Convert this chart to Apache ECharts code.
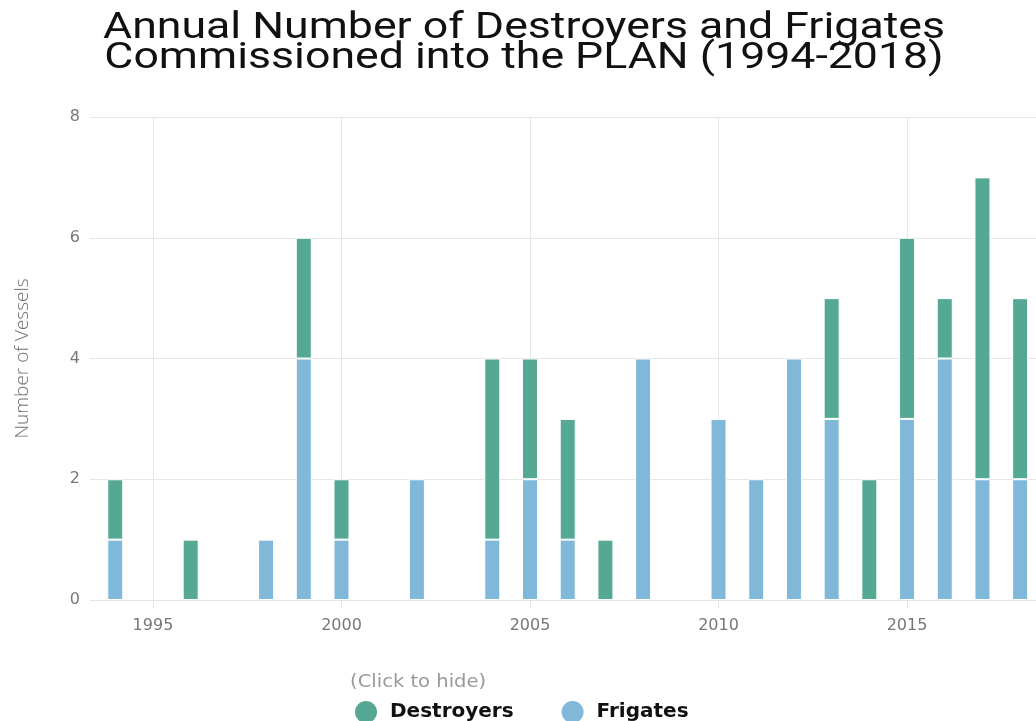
<!DOCTYPE html>
<html>
<head>
<meta charset="utf-8">
<script src="https://cdn.jsdelivr.net/npm/echarts@6/dist/echarts.min.js"></script>
<style>html,body{margin:0;padding:0;background:#fff;}#c{width:1036px;height:721px;}</style>
</head>
<body>
<div id="c"></div>
<script>
const years      = [1994,1996,1998,1999,2000,2002,2004,2005,2006,2007,2008,2010,2011,2012,2013,2014,2015,2016,2017,2018];
const frigates   = [1,   0,   1,   4,   1,   2,   1,   2,   1,   0,   4,   3,   2,   4,   3,   0,   3,   4,   2,   2];
const destroyers = [1,   1,   0,   2,   1,   0,   3,   2,   2,   1,   0,   0,   0,   0,   2,   2,   3,   1,   5,   3];
const xTicks = [1995, 2000, 2005, 2010, 2015];
const yTicks = [0, 2, 4, 6, 8];

// value first so that the stacked dimension is the vessel count
const toData = arr => years.map((y, i) => [arr[i] === 0 ? '-' : arr[i], y]);

const chart = echarts.init(document.getElementById('c'));
chart.setOption({
  animation: false,
  graphic: [{
    type: 'text', x: 524, y: 14, scaleX: 1.24, scaleY: 1,
    style: {
      text: 'Annual Number of Destroyers and Frigates\nCommissioned into the PLAN (1994-2018)',
      x: 0, y: 0, align: 'center', verticalAlign: 'top',
      fontFamily: 'Roboto', fontSize: 36, lineHeight: 30, fill: '#111'
    }
  }, {
    type: 'text', x: 350, y: 674, scaleX: 1.15,
    style: { text: '(Click to hide)', x: 0, y: 0, fontFamily: 'DejaVu Sans', fontSize: 17, fill: '#999' }
  }],
  legend: {
    left: 353, top: 699, padding: 0, icon: 'circle', itemWidth: 24, itemHeight: 24, itemGap: 46,
    data: ['Destroyers', 'Frigates'],
    textStyle: { fontFamily: 'DejaVu Sans', fontWeight: 'bold', fontSize: 20, color: '#111', padding: [0, 0, 0, 7] }
  },
  grid: { left: 90, right: 0, top: 117, bottom: 121 },
  xAxis: {
    type: 'value', min: 1993.33, max: 2018.42,
    axisLine: { show: true, lineStyle: { color: '#e3e3e3' } },
    axisTick: { show: true, customValues: xTicks, length: 8, lineStyle: { color: '#e3e3e3' } },
    axisLabel: { customValues: xTicks, formatter: v => String(v), fontFamily: 'DejaVu Sans', fontSize: 16, color: '#777', margin: 18 },
    splitLine: { show: true, lineStyle: { color: '#e6e6e6' } }
  },
  yAxis: {
    type: 'value', min: yTicks[0], max: yTicks[yTicks.length - 1], interval: 2,
    name: 'Number of Vessels', nameLocation: 'middle', nameGap: 58, nameRotate: 90,
    nameTextStyle: { fontFamily: 'Open Sans', fontWeight: 300, fontSize: 19, color: '#6f6f6f' },
    axisLine: { show: false }, axisTick: { show: false },
    axisLabel: { fontFamily: 'DejaVu Sans', fontSize: 16, color: '#777', margin: 10 },
    splitLine: { show: true, lineStyle: { color: '#e6e6e6' } }
  },
  series: [
    { name: 'Frigates', type: 'bar', stack: 'a', barWidth: 16, data: toData(frigates), encode: { x: 1, y: 0 },
      itemStyle: { color: '#80b8da', borderColor: '#fff', borderWidth: 1 } },
    { name: 'Destroyers', type: 'bar', stack: 'a', barWidth: 16, data: toData(destroyers), encode: { x: 1, y: 0 },
      itemStyle: { color: '#55a894', borderColor: '#fff', borderWidth: 1 } }
  ]
});
</script>
</body>
</html>
